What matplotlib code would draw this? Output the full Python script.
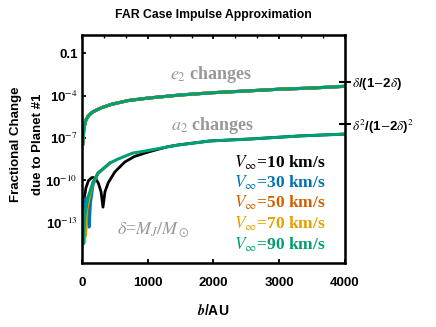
import matplotlib
matplotlib.use("Agg")
from matplotlib import pyplot as plt
import numpy as np

SANS = ["Liberation Sans Narrow", "Liberation Sans", "DejaVu Sans"]
SERIF = ["Liberation Serif", "DejaVu Serif"]
GRAY = "#999999"

# impact parameter b (AU) and fractional changes
B_E2 = [10, 15, 30, 60, 100, 150, 200, 300, 450, 700, 1000, 1500, 2000, 2500, 3000, 3500, 4000]
E2 = [3e-8, 7.2e-8, 5.1e-7, 1.9e-6, 3.8e-6, 6.3e-6, 8.5e-6, 1.4e-5, 2.4e-5,
      4.4e-5, 6.6e-5, 1.1e-4, 1.6e-4, 2.1e-4, 2.8e-4, 3.4e-4, 4.5e-4]

B_A2 = {
    10: [10, 30, 60, 100, 150, 200, 250, 290, 320, 350, 400, 500, 650, 800, 1000, 1300, 1460,
         1950, 2555, 3315, 4000],
    30: [10, 30, 60, 90, 110, 130, 170, 245, 425],
    50: [10, 30, 55, 80, 120, 170, 245, 425],
    70: [10, 25, 42, 70, 100, 170, 245],
    90: [20, 45, 90, 170, 245, 425, 550, 775, 960, 1460, 1950, 2555, 3315, 4000],
}
A2 = {
    10: [4e-13, 4e-12, 3e-11, 1e-10, 1.6e-10, 1.6e-10, 6.3e-11, 1.6e-11, 1.3e-12, 1.6e-11,
         7e-11, 4e-10, 2e-9, 5e-9, 1e-8, 2.4e-8, 3.2e-8,
         6.2e-8, 8.5e-8, 1.4e-7, 1.9e-7],
    30: [2.5e-13, 2.5e-12, 6e-12, 1.3e-12, 5e-14, 2.5e-12, 5e-11, 3.2e-10, 1.7e-9],
    50: [3e-13, 5e-13, 1.3e-14, 1e-12, 1.2e-11, 7e-11, 3.3e-10, 1.7e-9],
    70: [1e-13, 1e-13, 4e-15, 8e-13, 4e-12, 7.5e-11, 3.4e-10],
    90: [3.5e-15, 3.7e-13, 5.9e-12, 7.9e-11, 3.4e-10, 1.7e-9, 3.3e-9, 8.7e-9, 1.2e-8,
         3.2e-8, 6.2e-8, 8.5e-8, 1.4e-7, 1.9e-7],
}

SPEEDS = [10, 30, 50, 70, 90]
COLOURS = ["#000000", "#0072B2", "#D55E00", "#E69F00", "#009E73"]

DELTA = 1 / 1047.0
RIGHT_TICKS = [DELTA / (1 - 2 * DELTA), DELTA ** 2 / (1 - 2 * DELTA) ** 2]
RIGHT_LABELS = [r"$\delta$/(1$-$2$\delta$)", r"$\delta^2$/(1$-$2$\delta$)$^2$"]

plt.rcParams["mathtext.fontset"] = "stix"
plt.rcParams["font.family"] = SANS

fig = plt.figure(figsize=(4.36, 3.27), dpi=100)
ax = fig.add_axes([0.188, 0.196, 0.603, 0.697])

for v, c in zip(SPEEDS, COLOURS):
    ax.plot(B_E2, E2, color=c, lw=2.2, solid_capstyle="butt")
for v, c in zip(SPEEDS, COLOURS):
    ax.plot(B_A2[v], A2[v], color=c, lw=2.0 if v != 90 else 2.2)

ax.set_yscale("log")
ax.set_xlim(0, 4000)
ax.set_ylim(1.5e-16, 1.9)
ax.set_xticks([0, 1000, 2000, 3000, 4000])
ax.set_xticks(np.arange(0, 4001, 333.33), minor=True)
ax.set_yticks([1e-1, 1e-4, 1e-7, 1e-10, 1e-13])
ax.set_yticklabels(["0.1", r"10$^{-4}$", r"10$^{-7}$", r"10$^{-10}$", r"10$^{-13}$"])
ax.yaxis.set_minor_locator(matplotlib.ticker.NullLocator())
ax.tick_params(axis="both", direction="in", length=3, width=1.3, labelsize=9.5, pad=3)
ax.tick_params(axis="x", top=True, pad=10)
ax.tick_params(axis="x", which="minor", bottom=False, top=True, direction="in", length=2, width=1)
for lab in ax.get_xticklabels() + ax.get_yticklabels():
    lab.set_fontweight("bold")
for s in ax.spines.values():
    s.set_linewidth(1.8)

ax2 = ax.twinx()
ax2.set_yscale("log")
ax2.set_ylim(ax.get_ylim())
ax2.set_yticks(RIGHT_TICKS)
ax2.set_yticklabels(RIGHT_LABELS)
ax2.yaxis.set_minor_locator(matplotlib.ticker.NullLocator())
ax2.tick_params(axis="y", direction="inout", length=8, width=1.5, labelsize=9.5, pad=1)
for lab in ax2.get_yticklabels():
    lab.set_fontweight("bold")

ax.set_title("FAR Case Impulse Approximation", fontsize=8.8, fontweight="bold", pad=12)
ax.set_xlabel(r"$\mathbfit{b}$/AU", fontsize=10, fontweight="bold", labelpad=10)
ax.set_ylabel("Fractional Change\ndue to Planet #1", fontsize=9.5, fontweight="bold", linespacing=2.1)
ax.yaxis.set_label_coords(-0.145, 0.52)

ax.text(0.49, 0.825, r"$e_2$ changes", transform=ax.transAxes, ha="center", va="center",
        color=GRAY, fontsize=13, fontweight="bold", family=SERIF)
ax.text(0.495, 0.605, r"$a_2$ changes", transform=ax.transAxes, ha="center", va="center",
        color=GRAY, fontsize=13, fontweight="bold", family=SERIF)
ax.text(0.27, 0.145, r"$\delta$=$M_J/M_\odot$", transform=ax.transAxes, ha="center", va="center",
        color=GRAY, fontsize=13, family=SERIF)

legend_y = [0.439, 0.351, 0.263, 0.171, 0.079]
for v, c, y in zip(SPEEDS, COLOURS, legend_y):
    ax.text(0.58, y, r"$V_\infty$=%d km/s" % v, transform=ax.transAxes, ha="left", va="center",
            color=c, fontsize=12.5, fontweight="bold", family=SERIF)

fig.savefig("out.png", dpi=100)
